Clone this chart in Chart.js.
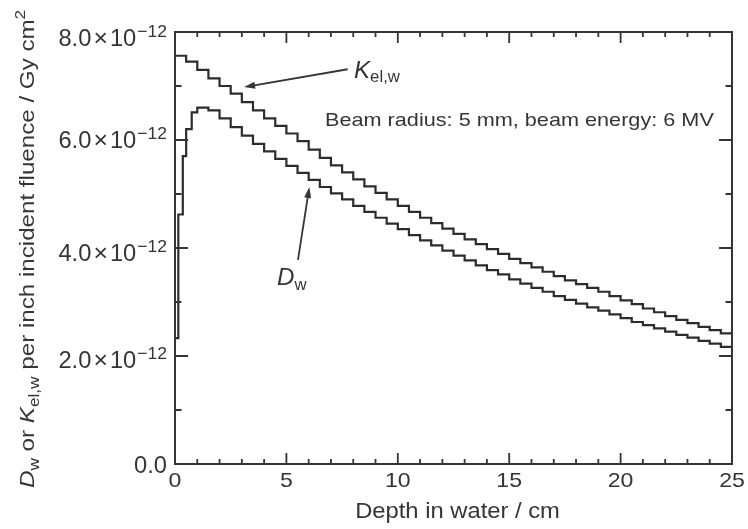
<!DOCTYPE html>
<html>
<head>
<meta charset="utf-8">
<script src="https://cdn.jsdelivr.net/npm/chart.js@4.4.1/dist/chart.umd.min.js"></script>
<style>
  html, body { margin: 0; padding: 0; background: #fff; }
  canvas { display: block; }
</style>
</head>
<body>
<canvas id="depthDose" width="748" height="529"></canvas>
<script>
// bin edges in cm (last entry closes the last bin), values in 1e-12 Gy cm^2
var kermaDepth = [0, 0.5, 1, 1.5, 2, 2.5, 3, 3.5, 4, 4.5, 5, 5.5, 6, 6.5, 7, 7.5, 8, 8.5, 9, 9.5,
  10, 10.5, 11, 11.5, 12, 12.5, 13, 13.5, 14, 14.5, 15, 15.5, 16, 16.5, 17, 17.5, 18, 18.5, 19, 19.5,
  20, 20.5, 21, 21.5, 22, 22.5, 23, 23.5, 24, 24.5, 25];
var kerma = [7.56, 7.45, 7.30, 7.14, 7.00, 6.86, 6.70, 6.55, 6.40, 6.26,
  6.12, 5.98, 5.82, 5.67, 5.53, 5.40, 5.27, 5.14, 5.02, 4.90,
  4.78, 4.67, 4.56, 4.46, 4.36, 4.26, 4.16, 4.07, 3.98, 3.89,
  3.80, 3.72, 3.64, 3.56, 3.48, 3.40, 3.33, 3.26, 3.19, 3.11,
  3.03, 2.96, 2.88, 2.81, 2.74, 2.67, 2.61, 2.54, 2.48, 2.42];

var doseDepth = [0, 0.15, 0.35, 0.5, 0.75, 1, 1.5, 2, 2.5, 3, 3.5, 4, 4.5, 5, 5.5, 6, 6.5, 7, 7.5, 8, 8.5, 9, 9.5,
  10, 10.5, 11, 11.5, 12, 12.5, 13, 13.5, 14, 14.5, 15, 15.5, 16, 16.5, 17, 17.5, 18, 18.5, 19, 19.5,
  20, 20.5, 21, 21.5, 22, 22.5, 23, 23.5, 24, 24.5, 25];
var dose = [2.33, 4.62, 5.70, 6.20, 6.51, 6.60, 6.55,
  6.40, 6.24, 6.08, 5.93, 5.79, 5.65, 5.52, 5.39, 5.26, 5.13,
  5.01, 4.90, 4.78, 4.67, 4.56, 4.45, 4.35, 4.24, 4.14, 4.05,
  3.95, 3.86, 3.77, 3.68, 3.59, 3.51, 3.42, 3.34, 3.26, 3.19,
  3.11, 3.04, 2.97, 2.90, 2.84, 2.77, 2.70, 2.63, 2.57, 2.51,
  2.45, 2.39, 2.34, 2.28, 2.23, 2.17];

var xTicks = [0, 5, 10, 15, 20, 25];
var xTickLabels = ['0', '5', '10', '15', '20', '25'];
var yTicks = [0, 2, 4, 6, 8];
var yTickLabels = ['0.0', '2.0', '4.0', '6.0', '8.0'];
var UNIT = 1e-12;

var FONT = '"Liberation Sans", Arial, Helvetica, sans-serif';
var INK = '#353535';

// each value holds from its edge to the next one
function toSteps(depths, values) {
  return depths.map(function (d, i) {
    var v = i < values.length ? values[i] : values[values.length - 1];
    return { x: d, y: v * UNIT };
  });
}

function fontOf(p) {
  return (p.italic ? 'italic ' : '') + p.s + 'px ' + FONT;
}

// draws text runs with sub/superscripts, optionally rotated and widened
function rich(ctx, parts, x, y, align, angle, stretch) {
  ctx.save();
  ctx.translate(x, y);
  if (angle) ctx.rotate(angle);
  ctx.scale(stretch || 1, 1);
  ctx.textAlign = 'left';
  ctx.textBaseline = 'alphabetic';
  ctx.fillStyle = INK;
  var w = 0;
  parts.forEach(function (p) {
    ctx.font = fontOf(p);
    p.w = ctx.measureText(p.t).width;
    w += p.w + (p.pad || 0);
  });
  var cx = align === 'right' ? -w : align === 'center' ? -w / 2 : 0;
  parts.forEach(function (p) {
    cx += p.pad || 0;
    ctx.font = fontOf(p);
    ctx.fillText(p.t, cx, p.dy || 0);
    cx += p.w;
  });
  ctx.restore();
}

function arrow(ctx, x0, y0, x1, y1) {
  var a = Math.atan2(y1 - y0, x1 - x0);
  var len = 11, half = 3.5;
  ctx.save();
  ctx.strokeStyle = INK;
  ctx.fillStyle = INK;
  ctx.lineWidth = 1.8;
  ctx.beginPath();
  ctx.moveTo(x0, y0);
  ctx.lineTo(x1 - Math.cos(a) * len * 0.8, y1 - Math.sin(a) * len * 0.8);
  ctx.stroke();
  ctx.beginPath();
  ctx.moveTo(x1, y1);
  ctx.lineTo(x1 - Math.cos(a) * len - Math.sin(a) * half, y1 - Math.sin(a) * len + Math.cos(a) * half);
  ctx.lineTo(x1 - Math.cos(a) * len + Math.sin(a) * half, y1 - Math.sin(a) * len - Math.cos(a) * half);
  ctx.closePath();
  ctx.fill();
  ctx.restore();
}

// frame with inward ticks on all four sides, tick labels, titles, notes
var framePlugin = {
  id: 'frame',
  afterDraw: function (chart) {
    var ctx = chart.ctx;
    var xs = chart.scales.x, ys = chart.scales.y;
    var a = chart.chartArea;
    var i, px, py;

    ctx.save();
    ctx.strokeStyle = INK;
    ctx.lineWidth = 2;
    ctx.strokeRect(a.left, a.top, a.right - a.left, a.bottom - a.top);

    ctx.lineWidth = 1.8;
    ctx.beginPath();
    for (i = 0; i <= 25; i++) {
      px = xs.getPixelForValue(i);
      var lx = i % 5 === 0 ? 11 : 5;
      ctx.moveTo(px, a.bottom); ctx.lineTo(px, a.bottom - lx);
      ctx.moveTo(px, a.top); ctx.lineTo(px, a.top + lx);
    }
    for (i = 0; i <= 8; i++) {
      py = ys.getPixelForValue(i * UNIT);
      var ly = i % 2 === 0 ? 13 : 6.5;
      ctx.moveTo(a.left, py); ctx.lineTo(a.left + ly, py);
      ctx.moveTo(a.right, py); ctx.lineTo(a.right - ly, py);
    }
    ctx.stroke();
    ctx.restore();

    xTicks.forEach(function (v, k) {
      rich(ctx, [{ t: xTickLabels[k], s: 21 }], xs.getPixelForValue(v), a.bottom + 23, 'center', 0, 1.1);
    });

    var yShift = [9, 12.3, 13.4, 8.3, 13.7];
    yTicks.forEach(function (v, k) {
      var parts = [{ t: yTickLabels[k], s: 23 }];
      if (v !== 0) {
        parts.push({ t: '\u00d7', s: 24, pad: 2 });
        parts.push({ t: '10', s: 23, pad: 2 });
        parts.push({ t: '\u221212', s: 17, dy: -9, pad: 1 });
      }
      rich(ctx, parts, a.left - 8, ys.getPixelForValue(v * UNIT) + yShift[k], 'right', 0, 1.03);
    });

    rich(ctx, [{ t: 'Depth in water / cm', s: 22 }], (a.left + a.right) / 2 + 4, 518, 'center', 0, 1.08);

    rich(ctx, [
      { t: 'D', s: 21, italic: true },
      { t: 'w', s: 15, dy: 5 },
      { t: ' or ', s: 21 },
      { t: 'K', s: 21, italic: true },
      { t: 'el,w', s: 15, dy: 5 },
      { t: ' per inch incident fluence / Gy cm', s: 21 },
      { t: '2', s: 15, dy: -9 }
    ], 33.5, 488, 'left', -Math.PI / 2, 1.15);

    rich(ctx, [{ t: 'Beam radius: 5 mm, beam energy: 6 MV', s: 19 }], 325, 126, 'left', 0, 1.14);

    // kerma and dose labels with their pointers
    rich(ctx, [{ t: 'K', s: 23, italic: true }, { t: 'el,w', s: 16, dy: 4 }], 354, 78, 'left', 0, 1.05);
    arrow(ctx, xs.getPixelForValue(7.75), ys.getPixelForValue(7.31 * UNIT),
      xs.getPixelForValue(3.1), ys.getPixelForValue(6.98 * UNIT));
    rich(ctx, [{ t: 'D', s: 23, italic: true }, { t: 'w', s: 16, dy: 5 }], 277, 285, 'left', 0, 1.05);
    arrow(ctx, xs.getPixelForValue(5.52), ys.getPixelForValue(3.78 * UNIT),
      xs.getPixelForValue(6.03), ys.getPixelForValue(5.13 * UNIT));
  }
};

var lineStyle = {
  borderColor: '#2c2c2c',
  borderWidth: 2.2,
  pointRadius: 0,
  fill: false,
  stepped: 'before',
  tension: 0
};

var chart = new Chart(document.getElementById('depthDose'), {
  type: 'line',
  data: {
    datasets: [
      Object.assign({ label: 'Kel,w', data: toSteps(kermaDepth, kerma) }, lineStyle),
      Object.assign({ label: 'Dw', data: toSteps(doseDepth, dose) }, lineStyle)
    ]
  },
  options: {
    responsive: false,
    animation: false,
    devicePixelRatio: 1,
    parsing: false,
    layout: { padding: { left: 175, right: 16, top: 32, bottom: 65 } },
    scales: {
      x: { type: 'linear', min: 0, max: 25, display: false },
      y: { type: 'linear', min: 0, max: 8 * UNIT, display: false }
    },
    plugins: {
      legend: { display: false },
      tooltip: { enabled: false }
    }
  },
  plugins: [framePlugin]
});
</script>
</body>
</html>
